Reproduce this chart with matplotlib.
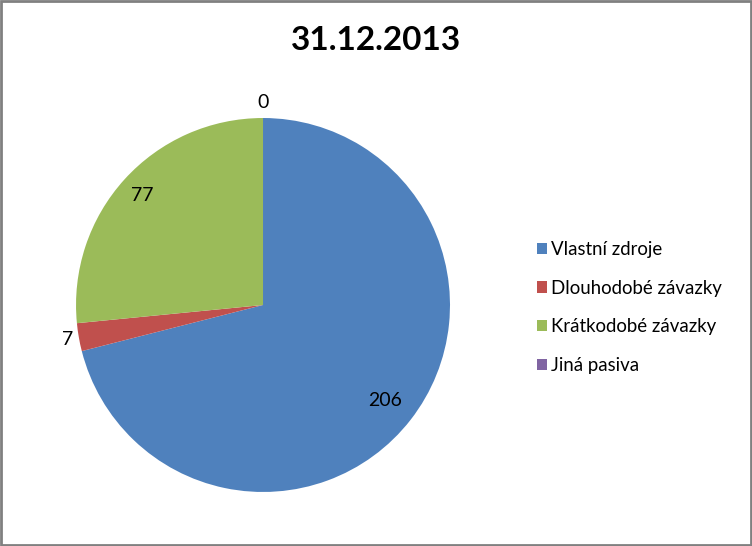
import matplotlib.pyplot as plt
import numpy as np
from matplotlib.patches import Rectangle

plt.rcParams["font.family"] = ["Lato", "DejaVu Sans"]

categories = ["Vlastní zdroje", "Dlouhodobé závazky", "Krátkodobé závazky", "Jiná pasiva"]
values = [206, 7, 77, 0]
colors = ["#4F81BD", "#C0504D", "#9BBB59", "#8064A2"]
title = "31.12.2013"

fig = plt.figure(figsize=(7.52, 5.46), dpi=100)
fig.patches.append(Rectangle((0.0015, 0.002), 0.997, 0.996, transform=fig.transFigure,
                             fill=False, edgecolor="#808080", linewidth=2))

ax = fig.add_axes([0.1011, 0.0989, 0.4973, 0.685])
wedges, _ = ax.pie(values, colors=colors, startangle=90, counterclock=False,
                   wedgeprops=dict(linewidth=0))
ax.set_xlim(-1, 1)
ax.set_ylim(-1, 1)
ax.set_aspect("equal")

# value labels (best-fit style distances)
dists = [0.83, 1.06, 0.87, 1.085]
for w, v, d in zip(wedges, values, dists):
    ang = np.deg2rad((w.theta1 + w.theta2) / 2)
    ax.text(d * np.cos(ang), d * np.sin(ang), str(v), ha="center", va="center",
            fontsize=14)

fig.text(0.5, 0.925, title, ha="center", va="center", fontsize=24, fontweight="bold")

fig.legend(wedges, categories, loc="center left", bbox_to_anchor=(0.714, 0.437),
           frameon=False, fontsize=13.4, handlelength=0.55, handleheight=0.55,
           handletextpad=0.2, labelspacing=1.16, borderpad=0, borderaxespad=0)

fig.savefig("out.png", dpi=100)
